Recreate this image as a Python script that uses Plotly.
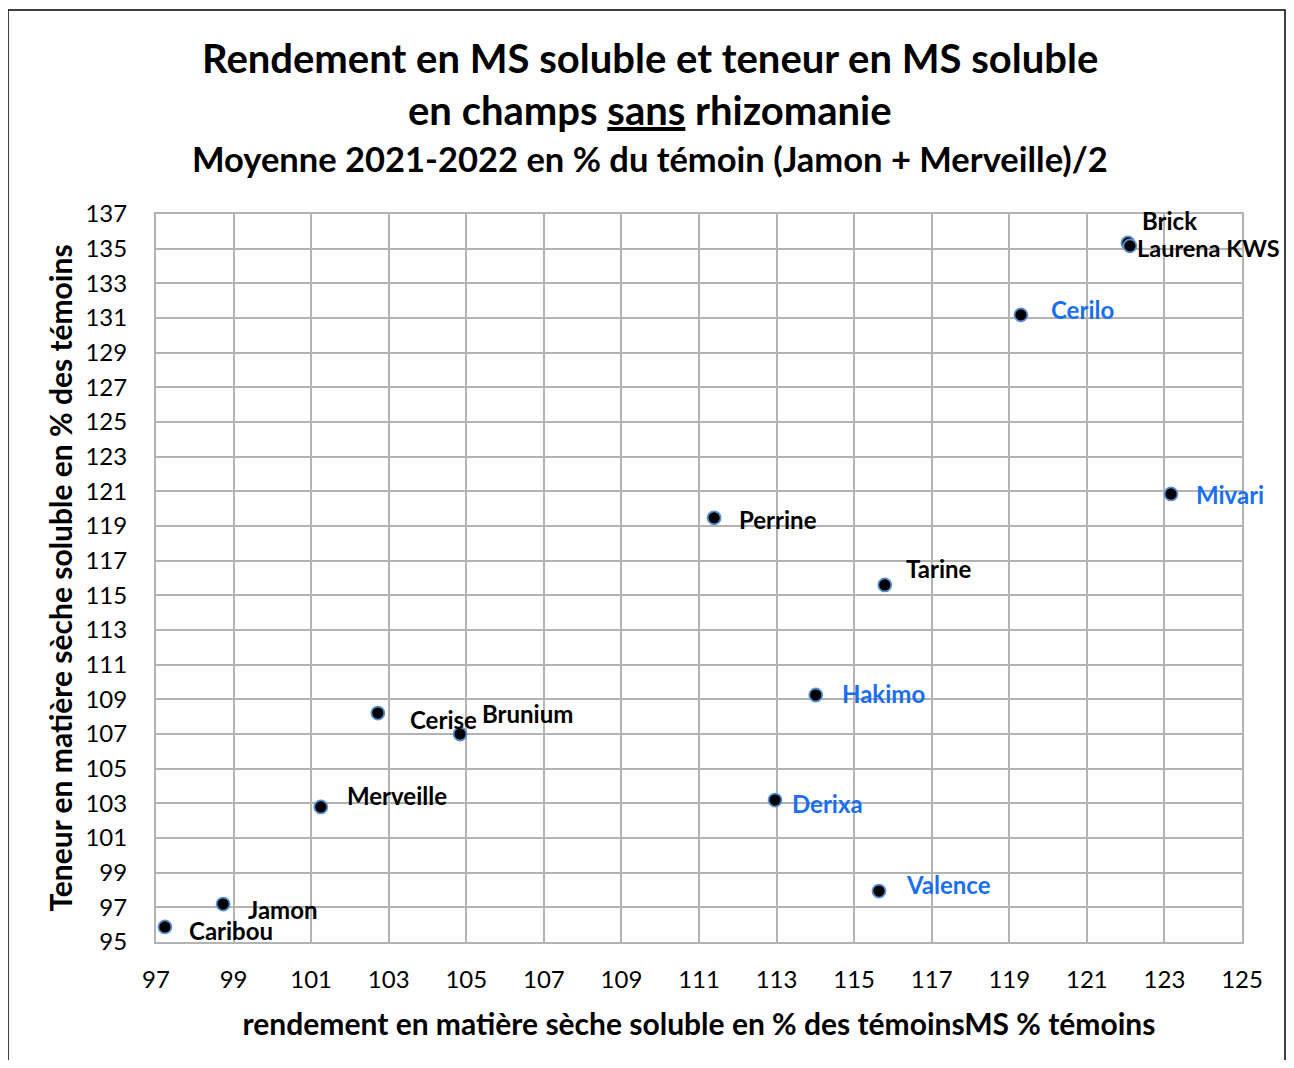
import plotly.graph_objects as go

varieties = ["Caribou", "Jamon", "Merveille", "Cerise", "Brunium", "Perrine", "Tarine",
             "Hakimo", "Derixa", "Valence", "Cerilo", "Mivari", "Brick", "Laurena KWS"]
rendement = [97.23, 98.73, 101.25, 102.72, 104.84, 111.39, 115.79,
             114.01, 112.96, 115.64, 119.30, 123.17, 122.06, 122.11]
teneur = [95.87, 97.19, 102.79, 108.21, 107.0, 119.47, 115.6,
          109.25, 103.19, 97.94, 131.18, 120.85, 135.33, 135.16]
is_new = [False, False, False, False, False, False, False,
          True, True, True, True, True, False, False]

x_ticks = list(range(97, 126, 2))
y_ticks = list(range(95, 138, 2))

# label offsets (pixels) relative to each point
label_dx = [22, 23, 24, 30, 20, 23, 19, 24, 15, 25, 28, 23, 12, 5]
label_dy = [-4, -5, 11, -6, 21, -2, 16, 2, -3, 7, 5, -1, 22, -2]

FONT = "Lato, Open Sans, sans-serif"
BLUE = "#1a6ff0"

# page offset of the figure (body margin) is 8px
OFF = 8
FIG_W, FIG_H = 1294 - 2 * OFF, 1068 - 2 * OFF
W0, W1 = 156 - OFF, 1242 - OFF
H0, H1 = 942 - OFF, 214 - OFF
def px(x):
    return (x - OFF - W0) / (W1 - W0)
def py(y):
    return (H0 - (y - OFF)) / (H0 - H1)

fig = go.Figure()
fig.add_trace(go.Scatter(
    x=rendement, y=teneur, mode="markers",
    marker=dict(size=13, color="black", line=dict(color="#5b8fd0", width=1.8)),
    hoverinfo="text", text=varieties, showlegend=False,
))

for name, xv, yv, new, dx, dy in zip(varieties, rendement, teneur, is_new, label_dx, label_dy):
    fig.add_annotation(
        x=xv, y=yv, text="<b>%s</b>" % name, showarrow=False,
        xanchor="left", yanchor="middle", xshift=dx, yshift=dy,
        font=dict(family=FONT, size=24 if name != "Laurena KWS" else 23.5,
                  color=BLUE if new else "black"),
    )

titles = [
    ("<b>Rendement en MS soluble et teneur en MS soluble</b>", 58, 40),
    ("<b>en champs <u>sans</u> rhizomanie</b>", 110, 40),
    ("<b>Moyenne 2021-2022 en % du témoin (Jamon + Merveille)/2</b>", 158, 34.5),
]
for t, yy, sz in titles:
    fig.add_annotation(
        x=px(650), y=py(yy), xref="paper", yref="paper", text=t, showarrow=False,
        xanchor="center", yanchor="middle", font=dict(family=FONT, size=sz, color="black"),
    )

fig.add_shape(type="rect", xref="paper", yref="paper",
              x0=px(8), x1=px(1285), y0=py(1075), y1=py(10),
              line=dict(color="black", width=1.5), layer="below")

axis_common = dict(
    showgrid=True, gridcolor="#b3b3b3", gridwidth=2,
    showline=True, linecolor="#b3b3b3", linewidth=2, mirror=True,
    zeroline=False, ticks="",
    tickfont=dict(family=FONT, size=24, color="black"),
)

fig.update_layout(
    width=FIG_W, height=FIG_H,
    margin=dict(l=W0, r=FIG_W - W1, t=H1, b=FIG_H - H0, pad=0),
    paper_bgcolor="white", plot_bgcolor="white",
    xaxis=dict(range=[97, 125], tickvals=x_ticks, ticklabelstandoff=15,
               title=dict(text="<b>rendement en matière sèche soluble en % des témoinsMS % témoins</b>",
                          font=dict(family=FONT, size=30, color="black"), standoff=22),
               **axis_common),
    yaxis=dict(range=[95, 137], tickvals=y_ticks, ticklabelstandoff=22,
               title=dict(text="<b>Teneur en matière sèche soluble en % des témoins</b>",
                          font=dict(family=FONT, size=30, color="black"), standoff=4),
               **axis_common),
)

fig.write_html("out.html")
